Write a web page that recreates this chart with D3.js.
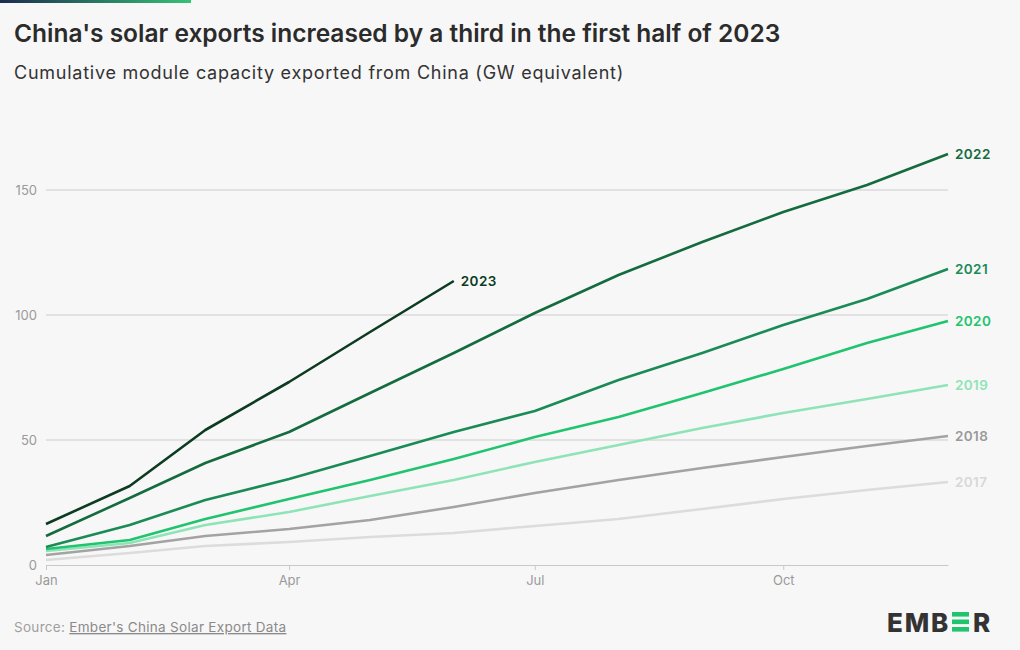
<!DOCTYPE html>
<html><head><meta charset="utf-8">
<script src="https://cdn.jsdelivr.net/npm/d3@7"></script>
<style>
html,body{margin:0;padding:0;background:#f7f7f7;}
svg{display:block;font-family:Inter, "Noto Sans", sans-serif;}
</style></head>
<body>
<svg id="c" width="1020" height="650"></svg>
<script>
const monthDates = ["2022-01-01","2022-02-01","2022-03-01","2022-04-01","2022-05-01","2022-06-01","2022-07-01","2022-08-01","2022-09-01","2022-10-01","2022-11-01","2022-12-01"];
const years = ["2017","2018","2019","2020","2021","2022","2023"];
const v2017 = [2.0,4.8,7.6,9.2,11.2,12.8,15.6,18.4,22.4,26.4,30.0,33.2];
const v2018 = [4.0,7.6,11.6,14.4,18.0,23.2,28.8,34.0,38.8,43.2,47.6,51.6];
const v2019 = [5.6,8.8,16.0,21.2,27.6,34.0,41.2,48.0,54.8,60.8,66.4,72.0];
const v2020 = [6.4,10.0,18.4,26.4,34.0,42.4,51.2,59.2,68.8,78.4,88.8,97.6];
const v2021 = [7.2,16.0,26.0,34.4,43.6,53.2,61.6,74.0,84.8,96.0,106.4,118.4];
const v2022 = [11.6,26.8,40.8,53.2,68.8,84.8,100.8,116.0,129.2,141.2,152.0,164.4];
const v2023 = [16.4,31.6,54.0,73.2,93.2,113.6];
const seriesValues = [v2017,v2018,v2019,v2020,v2021,v2022,v2023];
const colors = ["#dcdcdc","#a3a3a3","#8ee4b6","#20c46e","#1a8b56","#146b3e","#0c3b22"];
const labelColors = ["#d8d8d8","#9a9a9a","#8ee4b6","#20c46e","#1a8b56","#146b3e","#0c3b22"];
const yTicks = [0,50,100,150];
const xTickDates = ["2022-01-01","2022-04-01","2022-07-01","2022-10-01"];
const xTickLabels = ["Jan","Apr","Jul","Oct"];

const svg = d3.select("#c");
const parse = d3.utcParse("%Y-%m-%d");
const dates = monthDates.map(parse);

// top gradient bar
const defs = svg.append("defs");
const g = defs.append("linearGradient").attr("id","tg");
g.append("stop").attr("offset","0%").attr("stop-color","#1b2c4f");
g.append("stop").attr("offset","100%").attr("stop-color","#35c276");
svg.append("rect").attr("x",0).attr("y",0).attr("width",191).attr("height",3).attr("fill","url(#tg)");

svg.append("text").attr("x",14).attr("y",42).attr("font-size",24.5).attr("font-weight",600)
  .attr("fill","#2b2b2b").attr("letter-spacing",0)
  .text("China's solar exports increased by a third in the first half of 2023");
svg.append("text").attr("x",14).attr("y",79).attr("font-size",18).attr("font-weight",400)
  .attr("fill","#333").attr("letter-spacing",0.75).text("Cumulative module capacity exported from China (GW equivalent)");

const x = d3.scaleUtc().domain([dates[0], dates[11]]).range([46,948]);
const y = d3.scaleLinear().domain([0,170]).range([565,140]);

// gridlines
svg.append("g").selectAll("line").data(yTicks.filter(d=>d>0)).join("line")
  .attr("x1",46).attr("x2",948).attr("y1",d=>y(d)).attr("y2",d=>y(d))
  .attr("stroke","#cccccc").attr("stroke-width",1);
svg.append("g").selectAll("text").data(yTicks).join("text")
  .attr("x",37).attr("y",d=>y(d)+4.5).attr("text-anchor","end")
  .attr("font-size",13).attr("fill","#9a9a9a").text(d=>d);

// x axis
const xa = svg.append("g").attr("transform","translate(0,565)")
  .call(d3.axisBottom(x).tickValues(xTickDates.map(parse)).tickFormat((d,i)=>xTickLabels[i]).tickSize(5).tickSizeOuter(0));
xa.select(".domain").attr("stroke","#c8c8c8");
xa.selectAll(".tick line").attr("stroke","#c8c8c8");
xa.selectAll(".tick text").attr("font-size",13).attr("fill","#9a9a9a").attr("dy","0.9em").attr("font-family","Inter, sans-serif");

const line = d3.line().x((d,i)=>x(dates[i])).y(d=>y(d));
seriesValues.forEach((vals,k)=>{
  svg.append("path").datum(vals).attr("d",line).attr("fill","none")
    .attr("stroke",colors[k]).attr("stroke-width",2.6).attr("stroke-linejoin","round");
  const li = vals.length-1;
  svg.append("text").attr("x",x(dates[li])+7).attr("y",y(vals[li])+5)
    .attr("font-size",13.5).attr("font-weight",600).attr("letter-spacing",0.4).attr("fill",labelColors[k]).text(years[k]);
});

// source
const src = svg.append("text").attr("x",14).attr("y",632).attr("font-size",13.5).attr("letter-spacing",0.3).attr("fill","#a0a0a0");
src.append("tspan").text("Source: ");
src.append("tspan").attr("text-decoration","underline").attr("fill","#8a8a8a").text("Ember's China Solar Export Data");

// logo
const lg = svg.append("g");
lg.append("text").attr("x",887).attr("y",632).attr("font-size",26).attr("font-weight",800)
  .attr("fill","#333").attr("letter-spacing",1.8).text("EMB");
lg.append("text").attr("x",973).attr("y",632).attr("font-size",26).attr("font-weight",800)
  .attr("fill","#333").text("R");
[612,619.5,627].forEach(yy=>lg.append("rect").attr("x",952).attr("y",yy).attr("width",17).attr("height",4.6).attr("fill","#20c46e"));
</script>
</body></html>
